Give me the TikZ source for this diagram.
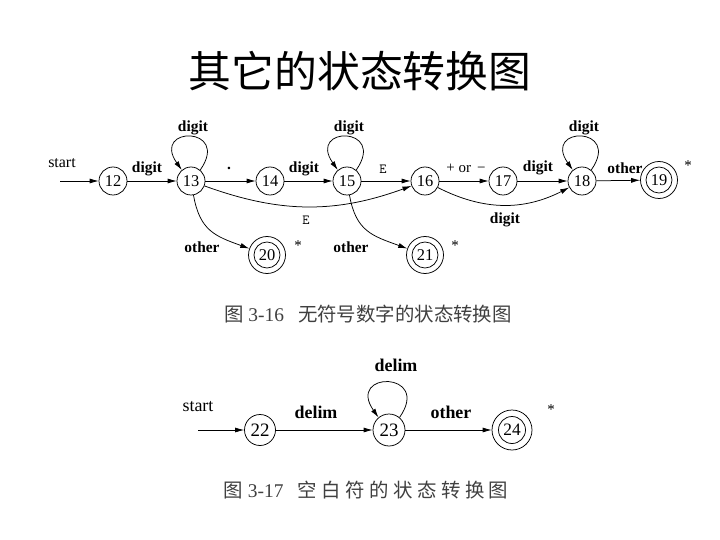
\documentclass[tikz,border=0pt]{standalone}
\usepackage{fontspec}
\setmainfont{Liberation Serif}
\newfontfamily\cjk{Noto Sans CJK SC}
\usepackage{tikz}
\usetikzlibrary{arrows.meta}

\newcommand{\capsep}{\hspace{4.5bp}}

\begin{document}
\begin{tikzpicture}[x=1bp,y=1bp,line width=0.75bp,
    state/.style={circle,draw,inner sep=0pt,minimum size=28bp,font=\fontsize{16.5}{16.5}\selectfont},
    accept/.style={circle,draw,inner sep=0pt,minimum size=37bp,font=\fontsize{16.5}{16.5}\selectfont,
        path picture={\draw (path picture bounding box.center) circle (13bp);}},
    lbl/.style={font=\fontsize{15.5}{15.5}\selectfont\bfseries},
    txt/.style={font=\fontsize{15}{15}\selectfont},
    arr/.style={-{Latex[length=9bp,width=5bp]}}]
    \useasboundingbox (0,0) rectangle (720,-540);
    % title
    \node[font=\fontsize{43}{43}\selectfont\cjk] (title) at (360,-71) {其它的状态转换图};
    % figure 3-16
    \coordinate (in1) at (60,-181);
    \node[txt,font=\fontsize{16}{16}\selectfont] (start1) at (62,-163) {start};
    \node[state] (s12) at (113,-181) {12};
    \node[state] (s13) at (191,-181) {13};
    \node[state] (s14) at (270,-181) {14};
    \node[state] (s15) at (347,-181) {15};
    \node[state] (s16) at (425,-181) {16};
    \node[state] (s17) at (503,-181) {17};
    \node[state] (s18) at (582,-181) {18};
    \node[accept] (s19) at (659,-180) {19};
    \node[accept] (s20) at (267,-255) {20};
    \node[accept] (s21) at (425,-255) {21};
    \draw[arr] (in1) -- (s12);
    \draw[arr] (s12) -- (s13);
    \draw[arr] (s13) -- (s14);
    \draw[arr] (s14) -- (s15);
    \draw[arr] (s15) -- (s16);
    \draw[arr] (s16) -- (s17);
    \draw[arr] (s17) -- (s18);
    \draw[arr] (s18) -- (s19);
    \draw[arr] (s13.50) to[out=55,in=125,distance=54bp] (s13.130);
    \draw[arr] (s15.50) to[out=55,in=125,distance=54bp] (s15.130);
    \draw[arr] (s18.50) to[out=55,in=125,distance=54bp] (s18.130);
    \draw[arr] (s13) to[out=-20,in=200] (s16);
    \draw[arr] (s16) to[out=-27,in=207] (s18);
    \draw[arr] (s13) to[out=-80,in=160,looseness=1.2] (s20);
    \draw[arr] (s15) to[out=-80,in=160,looseness=1.2] (s21);
    \node[lbl] (l1213) at (147,-169) {digit};
    \node[lbl] (l1314) at (229,-168) {.};
    \node[lbl] (l1415) at (304,-169) {digit};
    \node[txt,font=\fontsize{14}{14}\selectfont\ttfamily] (l1516) at (383,-169) {E};
    \node[txt] (l1617) at (466,-168) {+ or \,−};
    \node[lbl] (l1718) at (538,-168) {digit};
    \node[lbl] (l1819) at (625,-168) {other};
    \node[lbl] (l13) at (193,-128) {digit};
    \node[lbl] (l15) at (349,-128) {digit};
    \node[lbl] (l18) at (584,-128) {digit};
    \node[txt,font=\fontsize{14}{14}\selectfont\ttfamily] (l1316) at (306,-220) {E};
    \node[lbl] (l1618) at (505,-220) {digit};
    \node[lbl] (l1320) at (202,-247) {other};
    \node[lbl] (l1521) at (351,-247) {other};
    \node[txt] (a19) at (688,-166) {*};
    \node[txt] (a20) at (298,-246) {*};
    \node[txt] (a21) at (455,-246) {*};
    \node[font=\fontsize{19.5}{19.5}\selectfont,text=black!75] (cap1) at (368,-314)
        {{\cjk 图} 3-16\hspace{14bp}{\cjk 无符号数字的状态转换图}};
    % figure 3-17
    \coordinate (in2) at (198,-430);
    \node[font=\fontsize{18}{18}\selectfont] (start2) at (198,-407) {start};
    \node[state,minimum size=31bp,font=\fontsize{19}{19}\selectfont] (s22) at (260,-430) {22};
    \node[state,minimum size=32bp,font=\fontsize{19}{19}\selectfont] (s23) at (389,-430) {23};
    \node[accept,minimum size=40bp,font=\fontsize{17.5}{17.5}\selectfont,
        path picture={\draw (path picture bounding box.center) circle (13.5bp);}] (s24) at (512,-430) {24};
    \draw[arr] (in2) -- (s22);
    \draw[arr] (s22) -- (s23);
    \draw[arr] (s23) -- (s24);
    \draw[arr] (s23.50) to[out=55,in=125,distance=57bp] (s23.130);
    \node[lbl,font=\fontsize{18}{18}\selectfont\bfseries] (l23) at (396,-365) {delim};
    \node[lbl,font=\fontsize{18}{18}\selectfont\bfseries] (l2223) at (316,-412) {delim};
    \node[lbl,font=\fontsize{18}{18}\selectfont\bfseries] (l2324) at (451,-412) {other};
    \node[txt] (a24) at (551,-410) {*};
    \node[font=\fontsize{19.5}{19.5}\selectfont,text=black!75] (cap2) at (366,-490)
        {{\cjk 图} 3-17\hspace{14bp}{\cjk 空\capsep 白\capsep 符\capsep 的\capsep 状\capsep 态\capsep 转\capsep 换\capsep 图}};
\end{tikzpicture}
\end{document}
